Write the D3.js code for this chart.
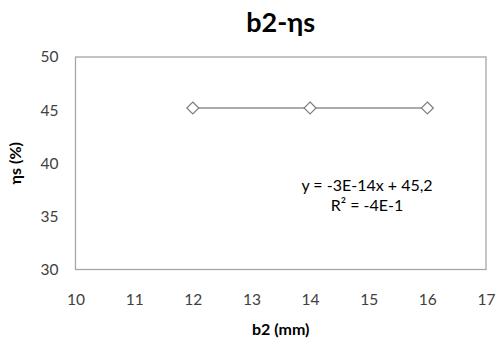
<!DOCTYPE html>
<html><head><meta charset="utf-8">
<script src="https://cdn.jsdelivr.net/npm/d3@7"></script>
<style>body{margin:0;background:#fff}svg{display:block;font-family:Lato,"Open Sans",sans-serif}</style>
</head><body><svg id="c" width="496" height="346"></svg>
<script>
const xValues = [12, 14, 16];
const yValues = [45.2, 45.2, 45.2];
const xTicks = [10, 11, 12, 13, 14, 15, 16, 17];
const yTicks = [30, 35, 40, 45, 50];
const title = "b2-ηs";
const xLabel = "b2 (mm)";
const yLabel = "ηs (%)";
const eqLines = ["y = -3E-14x + 45,2", "R² = -4E-1"];

const svg = d3.select("#c");
const m = {l: 75.5, r: 486, t: 57, b: 269.5};
const x = d3.scaleLinear().domain([10, 17]).range([m.l, m.r]);
const y = d3.scaleLinear().domain([30, 50]).range([m.b, m.t]);

svg.append("rect").attr("x", m.l).attr("y", m.t).attr("width", m.r - m.l).attr("height", m.b - m.t)
  .attr("fill", "none").attr("stroke", "#a6a6a6").attr("stroke-width", 1.3);

const xa = svg.append("g").attr("transform", `translate(0,${m.b})`)
  .call(d3.axisBottom(x).tickValues(xTicks).tickSize(0).tickPadding(24).tickFormat(d3.format("d")));
xa.select(".domain").remove();
xa.selectAll("text").attr("fill", "#404040").style("font-size", "15.5px").style("font-family", "Lato,'Open Sans',sans-serif");

const ya = svg.append("g").attr("transform", `translate(${m.l},0)`)
  .call(d3.axisLeft(y).tickValues(yTicks).tickSize(0).tickPadding(17).tickFormat(d3.format("d")));
ya.select(".domain").remove();
ya.selectAll("text").attr("fill", "#404040").style("font-size", "15.5px").style("font-family", "Lato,'Open Sans',sans-serif");

const pts = xValues.map((v, i) => [v, yValues[i]]);
svg.append("path").datum(pts)
  .attr("d", d3.line().x(d => x(d[0])).y(d => y(d[1])))
  .attr("fill", "none").attr("stroke", "#595959").attr("stroke-width", 1.2);

svg.selectAll(".mk").data(pts).enter().append("path")
  .attr("transform", d => `translate(${x(d[0])},${y(d[1])})`)
  .attr("d", "M0,-6L6,0L0,6L-6,0Z")
  .attr("fill", "#fff").attr("stroke", "#7f7f7f").attr("stroke-width", 1.2);

svg.append("text").attr("x", (m.l + m.r) / 2).attr("y", 32).attr("text-anchor", "middle")
  .style("font-size", "27px").style("font-weight", "bold").attr("fill", "#000").text(title);

svg.append("text").attr("x", (m.l + m.r) / 2).attr("y", 335).attr("text-anchor", "middle")
  .style("font-size", "16px").style("font-weight", "bold").attr("fill", "#000").text(xLabel);

svg.append("text").attr("transform", `translate(21,${(m.t + m.b) / 2}) rotate(-90)`).attr("text-anchor", "middle")
  .style("font-size", "16px").style("font-weight", "bold").attr("fill", "#000").text(yLabel);

svg.selectAll(".eq").data(eqLines).enter().append("text")
  .attr("x", 367).attr("y", (d, i) => 191 + i * 20).attr("text-anchor", "middle")
  .style("font-size", "16px").attr("fill", "#000").text(d => d);
</script></body></html>
